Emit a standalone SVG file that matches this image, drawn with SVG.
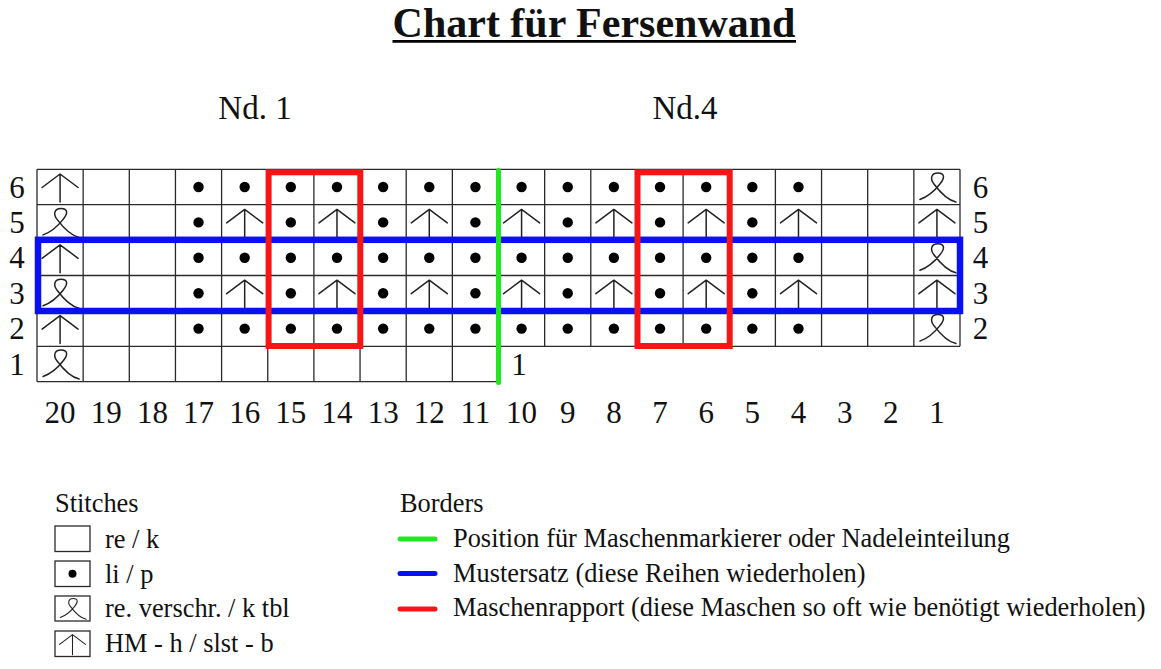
<svg xmlns="http://www.w3.org/2000/svg" xmlns:xlink="http://www.w3.org/1999/xlink" width="1161" height="669" viewBox="0 0 1161 669">
<style>
text{font-family:"Liberation Serif","Times New Roman",serif;fill:#111}
.title{font-size:42px;font-weight:bold}
.nd{font-size:33px}
.num{font-size:31px}
.leg{font-size:26.4px}
.grid{fill:none;stroke:#2a2a2a;stroke-width:1.3}
.sym{fill:none;stroke:#222;stroke-width:1.5;stroke-linecap:round;stroke-linejoin:round}
</style>
<defs>
<circle id="dot" r="5.2" fill="#000"/>
<path id="arr" class="sym" d="M0,15 V-13 M-18,0.5 L0,-13 L18,0.5"/>
<path id="tbl" class="sym" d="M-17,12.5 C-10,10 -4,6 3,-3 C8,-9 8,-14 1,-14 C-6,-14 -7,-8 -3,-3 C3,5 10,13 19,15"/>
</defs>
<rect width="1161" height="669" fill="#fff"/>
<g id="title">
<text class="title" x="594" y="37" text-anchor="middle">Chart für Fersenwand</text>
<line x1="392.5" y1="41.3" x2="796" y2="41.3" stroke="#000" stroke-width="2.7"/>
</g>
<g id="needle-labels">
<text class="nd" x="255" y="119" text-anchor="middle">Nd. 1</text>
<text class="nd" x="685" y="119" text-anchor="middle">Nd.4</text>
</g>
<g id="grid">
<path class="grid" d="M37,169.3 H960 M37,204.7 H960 M37,240.1 H960 M37,275.5 H960 M37,310.9 H960 M37,346.3 H960 M37,381.7 H498.5
M37,169.3 V381.7 M83.15,169.3 V381.7 M129.3,169.3 V381.7 M175.45,169.3 V381.7 M221.6,169.3 V381.7 M267.75,169.3 V381.7 M313.9,169.3 V381.7 M360.05,169.3 V381.7 M406.2,169.3 V381.7 M452.35,169.3 V381.7 M498.5,169.3 V381.7
M544.65,169.3 V346.3 M590.8,169.3 V346.3 M636.95,169.3 V346.3 M683.1,169.3 V346.3 M729.25,169.3 V346.3 M775.4,169.3 V346.3 M821.55,169.3 V346.3 M867.7,169.3 V346.3 M913.85,169.3 V346.3 M960,169.3 V346.3"/>
</g>
<g id="row-6">
<use href="#arr" x="60.08" y="187"/>
<use href="#dot" x="198.53" y="187"/><use href="#dot" x="244.68" y="187"/><use href="#dot" x="290.83" y="187"/><use href="#dot" x="336.98" y="187"/><use href="#dot" x="383.13" y="187"/><use href="#dot" x="429.28" y="187"/><use href="#dot" x="475.43" y="187"/><use href="#dot" x="521.58" y="187"/><use href="#dot" x="567.73" y="187"/><use href="#dot" x="613.88" y="187"/><use href="#dot" x="660.03" y="187"/><use href="#dot" x="706.18" y="187"/><use href="#dot" x="752.33" y="187"/><use href="#dot" x="798.48" y="187"/>
<use href="#tbl" x="936.93" y="187"/>
</g>
<g id="row-5">
<use href="#tbl" x="60.08" y="222.4"/>
<use href="#dot" x="198.53" y="222.4"/><use href="#arr" x="244.68" y="222.4"/><use href="#dot" x="290.83" y="222.4"/><use href="#arr" x="336.98" y="222.4"/><use href="#dot" x="383.13" y="222.4"/><use href="#arr" x="429.28" y="222.4"/><use href="#dot" x="475.43" y="222.4"/><use href="#arr" x="521.58" y="222.4"/><use href="#dot" x="567.73" y="222.4"/><use href="#arr" x="613.88" y="222.4"/><use href="#dot" x="660.03" y="222.4"/><use href="#arr" x="706.18" y="222.4"/><use href="#dot" x="752.33" y="222.4"/><use href="#arr" x="798.48" y="222.4"/>
<use href="#arr" x="936.93" y="222.4"/>
</g>
<g id="row-4">
<use href="#arr" x="60.08" y="257.8"/>
<use href="#dot" x="198.53" y="257.8"/><use href="#dot" x="244.68" y="257.8"/><use href="#dot" x="290.83" y="257.8"/><use href="#dot" x="336.98" y="257.8"/><use href="#dot" x="383.13" y="257.8"/><use href="#dot" x="429.28" y="257.8"/><use href="#dot" x="475.43" y="257.8"/><use href="#dot" x="521.58" y="257.8"/><use href="#dot" x="567.73" y="257.8"/><use href="#dot" x="613.88" y="257.8"/><use href="#dot" x="660.03" y="257.8"/><use href="#dot" x="706.18" y="257.8"/><use href="#dot" x="752.33" y="257.8"/><use href="#dot" x="798.48" y="257.8"/>
<use href="#tbl" x="936.93" y="257.8"/>
</g>
<g id="row-3">
<use href="#tbl" x="60.08" y="293.2"/>
<use href="#dot" x="198.53" y="293.2"/><use href="#arr" x="244.68" y="293.2"/><use href="#dot" x="290.83" y="293.2"/><use href="#arr" x="336.98" y="293.2"/><use href="#dot" x="383.13" y="293.2"/><use href="#arr" x="429.28" y="293.2"/><use href="#dot" x="475.43" y="293.2"/><use href="#arr" x="521.58" y="293.2"/><use href="#dot" x="567.73" y="293.2"/><use href="#arr" x="613.88" y="293.2"/><use href="#dot" x="660.03" y="293.2"/><use href="#arr" x="706.18" y="293.2"/><use href="#dot" x="752.33" y="293.2"/><use href="#arr" x="798.48" y="293.2"/>
<use href="#arr" x="936.93" y="293.2"/>
</g>
<g id="row-2">
<use href="#arr" x="60.08" y="328.6"/>
<use href="#dot" x="198.53" y="328.6"/><use href="#dot" x="244.68" y="328.6"/><use href="#dot" x="290.83" y="328.6"/><use href="#dot" x="336.98" y="328.6"/><use href="#dot" x="383.13" y="328.6"/><use href="#dot" x="429.28" y="328.6"/><use href="#dot" x="475.43" y="328.6"/><use href="#dot" x="521.58" y="328.6"/><use href="#dot" x="567.73" y="328.6"/><use href="#dot" x="613.88" y="328.6"/><use href="#dot" x="660.03" y="328.6"/><use href="#dot" x="706.18" y="328.6"/><use href="#dot" x="752.33" y="328.6"/><use href="#dot" x="798.48" y="328.6"/>
<use href="#tbl" x="936.93" y="328.6"/>
</g>
<g id="row-1">
<use href="#tbl" x="60.08" y="364"/>
</g>
<g id="connectors">
<rect x="38" y="239.8" width="922" height="71.2" fill="none" stroke="#0a10f2" stroke-width="6.5"/>
<rect x="268.6" y="172.3" width="91.7" height="173.7" fill="none" stroke="#f81515" stroke-width="6"/>
<rect x="637.5" y="172.3" width="92.2" height="173.7" fill="none" stroke="#f81515" stroke-width="6"/>
<line x1="498.5" y1="170.5" x2="498.5" y2="382.5" stroke="#22e622" stroke-width="5" stroke-linecap="round"/>
</g>
<g id="row-labels">
<text class="num" x="17" y="197.5" text-anchor="middle">6</text>
<text class="num" x="17" y="232.9" text-anchor="middle">5</text>
<text class="num" x="17" y="268.3" text-anchor="middle">4</text>
<text class="num" x="17" y="303.7" text-anchor="middle">3</text>
<text class="num" x="17" y="339.1" text-anchor="middle">2</text>
<text class="num" x="17" y="374.5" text-anchor="middle">1</text>
<text class="num" x="980.5" y="197.5" text-anchor="middle">6</text>
<text class="num" x="980.5" y="232.9" text-anchor="middle">5</text>
<text class="num" x="980.5" y="268.3" text-anchor="middle">4</text>
<text class="num" x="980.5" y="303.7" text-anchor="middle">3</text>
<text class="num" x="980.5" y="339.1" text-anchor="middle">2</text>
<text class="num" x="519" y="375" text-anchor="middle">1</text>
</g>
<g id="col-labels">
<text class="num" x="60.08" y="423" text-anchor="middle">20</text>
<text class="num" x="106.23" y="423" text-anchor="middle">19</text>
<text class="num" x="152.38" y="423" text-anchor="middle">18</text>
<text class="num" x="198.53" y="423" text-anchor="middle">17</text>
<text class="num" x="244.68" y="423" text-anchor="middle">16</text>
<text class="num" x="290.83" y="423" text-anchor="middle">15</text>
<text class="num" x="336.98" y="423" text-anchor="middle">14</text>
<text class="num" x="383.13" y="423" text-anchor="middle">13</text>
<text class="num" x="429.28" y="423" text-anchor="middle">12</text>
<text class="num" x="475.43" y="423" text-anchor="middle">11</text>
<text class="num" x="521.58" y="423" text-anchor="middle">10</text>
<text class="num" x="567.73" y="423" text-anchor="middle">9</text>
<text class="num" x="613.88" y="423" text-anchor="middle">8</text>
<text class="num" x="660.03" y="423" text-anchor="middle">7</text>
<text class="num" x="706.18" y="423" text-anchor="middle">6</text>
<text class="num" x="752.33" y="423" text-anchor="middle">5</text>
<text class="num" x="798.48" y="423" text-anchor="middle">4</text>
<text class="num" x="844.63" y="423" text-anchor="middle">3</text>
<text class="num" x="890.78" y="423" text-anchor="middle">2</text>
<text class="num" x="936.93" y="423" text-anchor="middle">1</text>
</g>
<g id="legend-stitches">
<text class="leg" x="55" y="512">Stitches</text>
<rect class="grid" x="55" y="526" width="35" height="25.5"/>
<text class="leg" x="105" y="548">re / k</text>
<rect class="grid" x="55" y="561" width="35" height="25.5"/>
<circle cx="72.5" cy="573.7" r="4" fill="#000"/>
<text class="leg" x="105" y="583">li / p</text>
<rect class="grid" x="55" y="596" width="35" height="25"/>
<use href="#tbl" transform="translate(72.5,608.5) scale(0.72)"/>
<text class="leg" x="105" y="617">re. verschr. / k tbl</text>
<rect class="grid" x="55" y="631" width="35" height="25.5"/>
<use href="#arr" transform="translate(72.5,644) scale(0.72)"/>
<text class="leg" x="105" y="652">HM - h / slst - b</text>
</g>
<g id="legend-borders">
<text class="leg" x="400" y="512">Borders</text>
<line x1="400" y1="539" x2="435" y2="539" stroke="#22e622" stroke-width="5" stroke-linecap="round"/>
<text class="leg" x="453" y="547">Position für Maschenmarkierer oder Nadeleinteilung</text>
<line x1="400" y1="573.5" x2="435" y2="573.5" stroke="#0a10f2" stroke-width="5" stroke-linecap="round"/>
<text class="leg" x="453" y="582">Mustersatz (diese Reihen wiederholen)</text>
<line x1="400" y1="609" x2="435" y2="609" stroke="#f81515" stroke-width="5" stroke-linecap="round"/>
<text class="leg" x="453" y="616">Maschenrapport (diese Maschen so oft wie benötigt wiederholen)</text>
</g>
</svg>
